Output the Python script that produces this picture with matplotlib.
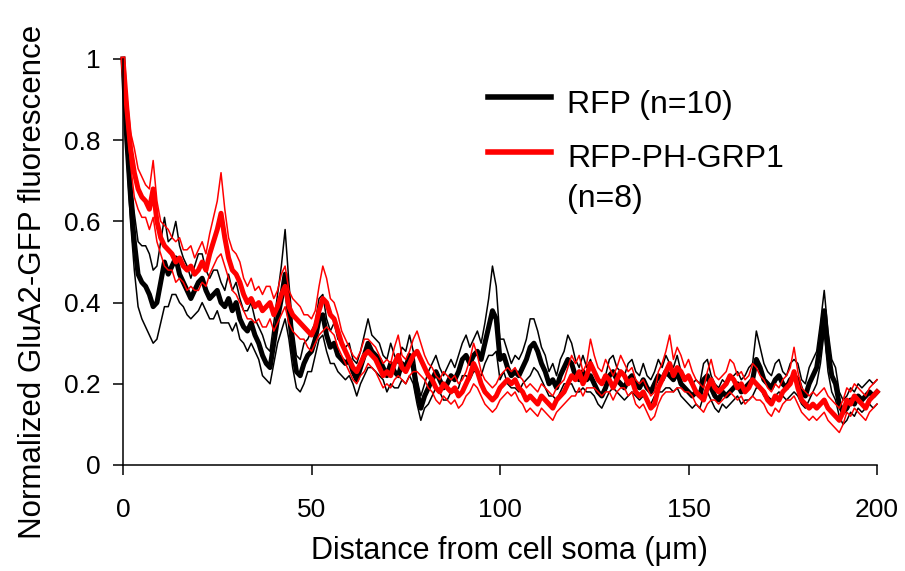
import numpy as np
import matplotlib
matplotlib.use("Agg")
import matplotlib.pyplot as plt
from matplotlib.lines import Line2D

plt.rcParams['font.family'] = ['Liberation Sans', 'DejaVu Sans']

# 거리 (um), 1 um 간격
distance = np.arange(0, 201)

# RFP (n=10) 평균
rfp_mean = [
    1.00, 0.80, 0.66, 0.55, 0.47, 0.45, 0.44, 0.42, 0.39, 0.40,
    0.45, 0.50, 0.47, 0.49, 0.51, 0.47, 0.45, 0.43, 0.41, 0.43,
    0.45, 0.46, 0.43, 0.41, 0.42, 0.43, 0.40, 0.39, 0.41, 0.38,
    0.40, 0.36, 0.34, 0.33, 0.35, 0.32, 0.30, 0.27, 0.25, 0.24,
    0.30, 0.36, 0.41, 0.47, 0.38, 0.29, 0.23, 0.22, 0.25, 0.27,
    0.28, 0.31, 0.36, 0.37, 0.32, 0.29, 0.30, 0.27, 0.26, 0.25,
    0.26, 0.23, 0.21, 0.24, 0.27, 0.30, 0.28, 0.27, 0.26, 0.24,
    0.22, 0.25, 0.23, 0.22, 0.25, 0.24, 0.27, 0.24, 0.18, 0.14,
    0.17, 0.19, 0.21, 0.23, 0.21, 0.19, 0.20, 0.22, 0.21, 0.23,
    0.26, 0.27, 0.25, 0.27, 0.28, 0.26, 0.30, 0.34, 0.38, 0.36,
    0.26, 0.27, 0.24, 0.22, 0.23, 0.22, 0.24, 0.26, 0.29, 0.30,
    0.28, 0.25, 0.23, 0.20, 0.21, 0.19, 0.22, 0.24, 0.26, 0.25,
    0.22, 0.21, 0.23, 0.21, 0.22, 0.20, 0.18, 0.17, 0.19, 0.22,
    0.23, 0.21, 0.20, 0.19, 0.21, 0.22, 0.20, 0.19, 0.21, 0.19,
    0.18, 0.20, 0.22, 0.21, 0.23, 0.22, 0.21, 0.23, 0.20, 0.19,
    0.18, 0.17, 0.18, 0.17, 0.21, 0.22, 0.19, 0.17, 0.16, 0.18,
    0.17, 0.18, 0.19, 0.20, 0.18, 0.19, 0.20, 0.21, 0.26, 0.24,
    0.21, 0.20, 0.19, 0.21, 0.22, 0.20, 0.19, 0.21, 0.22, 0.21,
    0.18, 0.17, 0.20, 0.22, 0.24, 0.30, 0.38, 0.28, 0.22, 0.20,
    0.15, 0.13, 0.14, 0.16, 0.15, 0.17, 0.16, 0.17, 0.18, 0.17,
    0.18,
]

# RFP 표준오차
rfp_sem = [
    0.00, 0.04, 0.06, 0.07, 0.08, 0.09, 0.10, 0.10, 0.09, 0.09,
    0.10, 0.11, 0.08, 0.07, 0.09, 0.07, 0.06, 0.06, 0.05, 0.06,
    0.07, 0.06, 0.05, 0.05, 0.06, 0.05, 0.05, 0.04, 0.06, 0.05,
    0.05, 0.05, 0.04, 0.05, 0.05, 0.04, 0.04, 0.05, 0.04, 0.04,
    0.05, 0.06, 0.08, 0.11, 0.07, 0.05, 0.04, 0.04, 0.05, 0.04,
    0.05, 0.04, 0.05, 0.05, 0.04, 0.04, 0.05, 0.04, 0.04, 0.04,
    0.04, 0.03, 0.04, 0.04, 0.05, 0.06, 0.04, 0.04, 0.04, 0.03,
    0.04, 0.05, 0.04, 0.03, 0.04, 0.04, 0.05, 0.04, 0.03, 0.03,
    0.03, 0.04, 0.04, 0.04, 0.03, 0.03, 0.04, 0.04, 0.03, 0.04,
    0.04, 0.05, 0.04, 0.04, 0.05, 0.04, 0.05, 0.07, 0.11, 0.08,
    0.05, 0.04, 0.04, 0.03, 0.04, 0.04, 0.04, 0.05, 0.07, 0.06,
    0.05, 0.04, 0.04, 0.03, 0.04, 0.03, 0.04, 0.04, 0.06, 0.05,
    0.04, 0.03, 0.04, 0.03, 0.04, 0.03, 0.03, 0.03, 0.03, 0.04,
    0.04, 0.03, 0.03, 0.03, 0.04, 0.04, 0.03, 0.03, 0.04, 0.03,
    0.03, 0.03, 0.04, 0.03, 0.04, 0.03, 0.03, 0.04, 0.03, 0.03,
    0.03, 0.03, 0.03, 0.03, 0.04, 0.04, 0.03, 0.03, 0.03, 0.03,
    0.03, 0.03, 0.03, 0.03, 0.03, 0.03, 0.04, 0.04, 0.07, 0.05,
    0.04, 0.03, 0.03, 0.04, 0.04, 0.03, 0.03, 0.04, 0.04, 0.04,
    0.03, 0.03, 0.04, 0.04, 0.04, 0.05, 0.05, 0.05, 0.04, 0.04,
    0.03, 0.03, 0.03, 0.03, 0.03, 0.03, 0.03, 0.03, 0.03, 0.03,
    0.03,
]

# RFP-PH-GRP1 (n=8) 평균
grp1_mean = [
    1.00, 0.88, 0.78, 0.72, 0.68, 0.66, 0.65, 0.63, 0.68, 0.60,
    0.56, 0.54, 0.53, 0.52, 0.50, 0.51, 0.49, 0.48, 0.49, 0.47,
    0.48, 0.50, 0.48, 0.52, 0.55, 0.58, 0.62, 0.56, 0.51, 0.48,
    0.47, 0.45, 0.42, 0.40, 0.41, 0.39, 0.40, 0.38, 0.39, 0.40,
    0.37, 0.39, 0.42, 0.44, 0.39, 0.37, 0.36, 0.35, 0.34, 0.33,
    0.32, 0.34, 0.38, 0.41, 0.40, 0.37, 0.36, 0.33, 0.30, 0.28,
    0.26, 0.24, 0.23, 0.25, 0.27, 0.28, 0.27, 0.26, 0.24, 0.22,
    0.23, 0.22, 0.25, 0.27, 0.24, 0.23, 0.25, 0.27, 0.28, 0.26,
    0.24, 0.22, 0.21, 0.19, 0.18, 0.20, 0.19, 0.18, 0.19, 0.17,
    0.18, 0.20, 0.22, 0.25, 0.23, 0.20, 0.18, 0.17, 0.16, 0.17,
    0.19, 0.20, 0.21, 0.20, 0.21, 0.19, 0.18, 0.16, 0.17, 0.16,
    0.15, 0.17, 0.16, 0.15, 0.14, 0.16, 0.17, 0.18, 0.20, 0.22,
    0.21, 0.23, 0.20, 0.22, 0.25, 0.23, 0.21, 0.20, 0.22, 0.21,
    0.19, 0.21, 0.23, 0.22, 0.20, 0.21, 0.18, 0.17, 0.18, 0.16,
    0.14, 0.15, 0.19, 0.21, 0.23, 0.25, 0.22, 0.24, 0.23, 0.21,
    0.22, 0.20, 0.18, 0.17, 0.16, 0.19, 0.21, 0.19, 0.18, 0.19,
    0.20, 0.22, 0.21, 0.19, 0.20, 0.18, 0.19, 0.21, 0.20, 0.19,
    0.18, 0.16, 0.15, 0.17, 0.16, 0.18, 0.19, 0.20, 0.23, 0.19,
    0.16, 0.15, 0.14, 0.15, 0.14, 0.15, 0.16, 0.14, 0.13, 0.12,
    0.11, 0.13, 0.16, 0.15, 0.17, 0.16, 0.15, 0.14, 0.16, 0.17,
    0.18,
]

# RFP-PH-GRP1 표준오차
grp1_sem = [
    0.00, 0.03, 0.04, 0.06, 0.05, 0.05, 0.04, 0.05, 0.07, 0.05,
    0.04, 0.05, 0.05, 0.04, 0.05, 0.05, 0.04, 0.05, 0.05, 0.04,
    0.05, 0.05, 0.04, 0.05, 0.06, 0.07, 0.10, 0.07, 0.05, 0.05,
    0.05, 0.05, 0.04, 0.04, 0.05, 0.04, 0.04, 0.04, 0.05, 0.04,
    0.04, 0.04, 0.05, 0.05, 0.04, 0.04, 0.04, 0.04, 0.03, 0.04,
    0.04, 0.04, 0.06, 0.08, 0.06, 0.04, 0.04, 0.04, 0.03, 0.03,
    0.03, 0.03, 0.03, 0.03, 0.04, 0.03, 0.03, 0.03, 0.03, 0.03,
    0.03, 0.03, 0.04, 0.05, 0.03, 0.03, 0.03, 0.04, 0.05, 0.04,
    0.03, 0.03, 0.03, 0.03, 0.03, 0.03, 0.03, 0.03, 0.03, 0.03,
    0.03, 0.03, 0.04, 0.05, 0.04, 0.03, 0.03, 0.03, 0.03, 0.03,
    0.03, 0.03, 0.03, 0.03, 0.03, 0.03, 0.03, 0.03, 0.03, 0.03,
    0.03, 0.03, 0.03, 0.03, 0.03, 0.03, 0.03, 0.03, 0.04, 0.05,
    0.04, 0.04, 0.03, 0.03, 0.06, 0.04, 0.03, 0.03, 0.04, 0.03,
    0.03, 0.03, 0.04, 0.03, 0.03, 0.03, 0.03, 0.03, 0.03, 0.03,
    0.03, 0.03, 0.04, 0.04, 0.05, 0.07, 0.04, 0.05, 0.04, 0.03,
    0.04, 0.03, 0.03, 0.03, 0.03, 0.04, 0.05, 0.03, 0.03, 0.03,
    0.03, 0.04, 0.04, 0.03, 0.03, 0.03, 0.03, 0.04, 0.04, 0.03,
    0.03, 0.03, 0.03, 0.03, 0.03, 0.03, 0.03, 0.04, 0.06, 0.04,
    0.03, 0.03, 0.03, 0.03, 0.03, 0.03, 0.03, 0.03, 0.03, 0.03,
    0.03, 0.03, 0.03, 0.03, 0.03, 0.03, 0.03, 0.03, 0.03, 0.03,
    0.03,
]

x_ticks = [0, 50, 100, 150, 200]
y_ticks = [0, 0.2, 0.4, 0.6, 0.8, 1]
y_tick_labels = ['0', '0.2', '0.4', '0.6', '0.8', '1']

legend_labels = ['RFP (n=10)', 'RFP-PH-GRP1', '(n=8)']

RED = '#ff0000'


def draw_profile(ax, mean, sem, color):
    mean = np.array(mean)
    sem = np.array(sem)
    ax.plot(distance, mean + sem, color=color, lw=1.1, clip_on=False)
    ax.plot(distance, mean - sem, color=color, lw=1.1, clip_on=False)
    ax.plot(distance, mean, color=color, lw=3.6, clip_on=False)


def main():
    fig = plt.figure(figsize=(9.05, 5.71), dpi=100)
    ax = fig.add_axes([123 / 905, 1 - 465 / 571, 754 / 905, 406 / 571])

    draw_profile(ax, rfp_mean, rfp_sem, 'black')
    draw_profile(ax, grp1_mean, grp1_sem, RED)

    ax.set_xlim(0, 200)
    ax.set_ylim(0, 1)
    ax.set_xticks(x_ticks)
    ax.set_yticks(y_ticks)
    ax.set_yticklabels(y_tick_labels)
    ax.tick_params(direction='out', length=7, width=1.1, labelsize=19)
    ax.tick_params(axis='x', pad=17)
    ax.tick_params(axis='y', pad=9)
    ax.spines['top'].set_visible(False)
    ax.spines['right'].set_visible(False)
    ax.spines['left'].set_linewidth(1.1)
    ax.spines['bottom'].set_linewidth(1.1)

    ax.set_xlabel('Distance from cell soma (\u03bcm)', fontsize=22)
    ax.set_ylabel('Normalized GluA2-GFP fluorescence', fontsize=22.5)
    # 축 제목 위치 (원본에 맞춤)
    ax.xaxis.set_label_coords(0.513, -0.175)
    ax.yaxis.set_label_coords(-0.1, 0.45)

    # 범례 (수동 배치)
    fig.add_artist(Line2D([488 / 905, 551 / 905], [1 - 97 / 571] * 2,
                          color='black', lw=4))
    fig.add_artist(Line2D([488 / 905, 551 / 905], [1 - 152 / 571] * 2,
                          color=RED, lw=4))
    fig.text(567 / 905, 1 - 113 / 571, legend_labels[0], fontsize=23, va='baseline')
    fig.text(567 / 905, 1 - 167 / 571, legend_labels[1], fontsize=23, va='baseline')
    fig.text(567 / 905, 1 - 207 / 571, legend_labels[2], fontsize=23, va='baseline')

    fig.savefig('out.png', dpi=100)


if __name__ == "__main__":
    main()
